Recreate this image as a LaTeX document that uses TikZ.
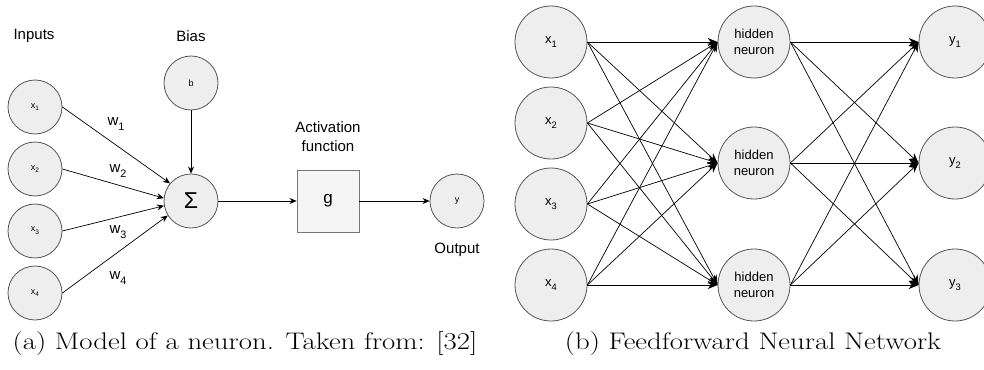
\documentclass[tikz,border=0pt]{standalone}
\usepackage{fontspec}
\usepackage{graphicx}
\newfontfamily\dfont{Liberation Sans}
\usetikzlibrary{arrows.meta}
\definecolor{cellfill}{HTML}{EEEEEE}
\definecolor{cellline}{HTML}{555555}
\definecolor{boxfill}{HTML}{F5F5F5}
\definecolor{boxline}{HTML}{777777}
% letter with a lowered, smaller index
\newcommand\lowsub[2]{#1\raisebox{-0.3em}{\scalebox{0.72}{#2}}}
\tikzset{
  neuron/.style={circle, draw=cellline, fill=cellfill, line width=0.8pt, inner sep=0pt},
  smallcell/.style={neuron, minimum size=54pt, font=\dfont\fontsize{9}{11}\selectfont},
  bigcell/.style={neuron, minimum size=72pt, font=\dfont\fontsize{13}{16}\selectfont, align=center},
  actbox/.style={draw=boxline, fill=boxfill, line width=0.8pt, minimum size=62pt, inner sep=0pt, font=\dfont\fontsize{17}{20}\selectfont},
  lbl/.style={font=\dfont\fontsize{15}{19}\selectfont, align=center, inner sep=0pt},
  thin/.style={line width=0.7pt, -{Stealth[length=7pt,width=6pt]}},
  net/.style={line width=0.7pt, -{Stealth[length=10pt,width=8pt]}},
  capt/.style={font=\fontsize{24}{28}\selectfont, inner sep=0pt}
}
\begin{document}
\begin{tikzpicture}[x=1pt,y=-1pt]
\useasboundingbox (0,0) rectangle (984,369);

% ---- (a) single neuron ----
\node[lbl] (tin) at (34,36) {Inputs};
\node[lbl] (tbias) at (191,36) {Bias};
\node[smallcell] (b) at (191,83) {b};
\node[smallcell] (x1) at (35,107) {\lowsub{x}{1}};
\node[smallcell] (x2) at (35,169) {\lowsub{x}{2}};
\node[smallcell] (x3) at (35,231) {\lowsub{x}{3}};
\node[smallcell] (x4) at (35,293) {\lowsub{x}{4}};
\node[neuron, minimum size=54pt, font=\dfont\fontsize{23}{24}\selectfont] (sum) at (191,201) {Σ};
\node[actbox] (g) at (328,201) {g};
\node[smallcell] (y) at (457,201) {y};
\node[lbl] (tact) at (328,137) {Activation\\function};
\node[lbl] (tout) at (457,250) {Output};

\node[lbl] (w1) at (116,124) {\lowsub{w}{1}};
\node[lbl] (w2) at (118,171) {\lowsub{w}{2}};
\node[lbl] (w3) at (118,232) {\lowsub{w}{3}};
\node[lbl] (w4) at (118,278) {\lowsub{w}{4}};

\draw[thin] (x1.east) -- (sum.140);
\draw[thin] (x2.east) -- (sum.174);
\draw[thin] (x3.east) -- (sum.190);
\draw[thin] (x4.east) -- (sum.212);
\draw[thin] (b.south) -- (sum.north);
\draw[thin] (sum.east) -- (g.west);
\draw[thin] (g.east) -- (y.west);

\node[capt] (capa) at (245,344) {\scalebox{1.2}[1]{(a) Model of a neuron. Taken from: [32]}};

% ---- (b) feedforward network ----
\foreach \i/\yy in {1/42,2/123,3/204,4/285}
  \node[bigcell] (in\i) at (551,\yy) {\lowsub{x}{\i}};
\foreach \j/\yy in {1/42,2/163,3/285}
  \node[bigcell] (h\j) at (754,\yy) {hidden\\neuron};
\foreach \k/\yy in {1/42,2/163,3/285}
  \node[bigcell] (out\k) at (955,\yy) {\lowsub{y}{\k}};

\foreach \i in {1,...,4}
  \foreach \j in {1,2,3}
    \draw[net] (in\i.east) -- (h\j.west);
\foreach \j in {1,2,3}
  \foreach \k in {1,2,3}
    \draw[net] (h\j.east) -- (out\k.west);

\node[capt] (capb) at (753,344) {\scalebox{1.2}[1]{(b) Feedforward Neural Network}};
\end{tikzpicture}
\end{document}
